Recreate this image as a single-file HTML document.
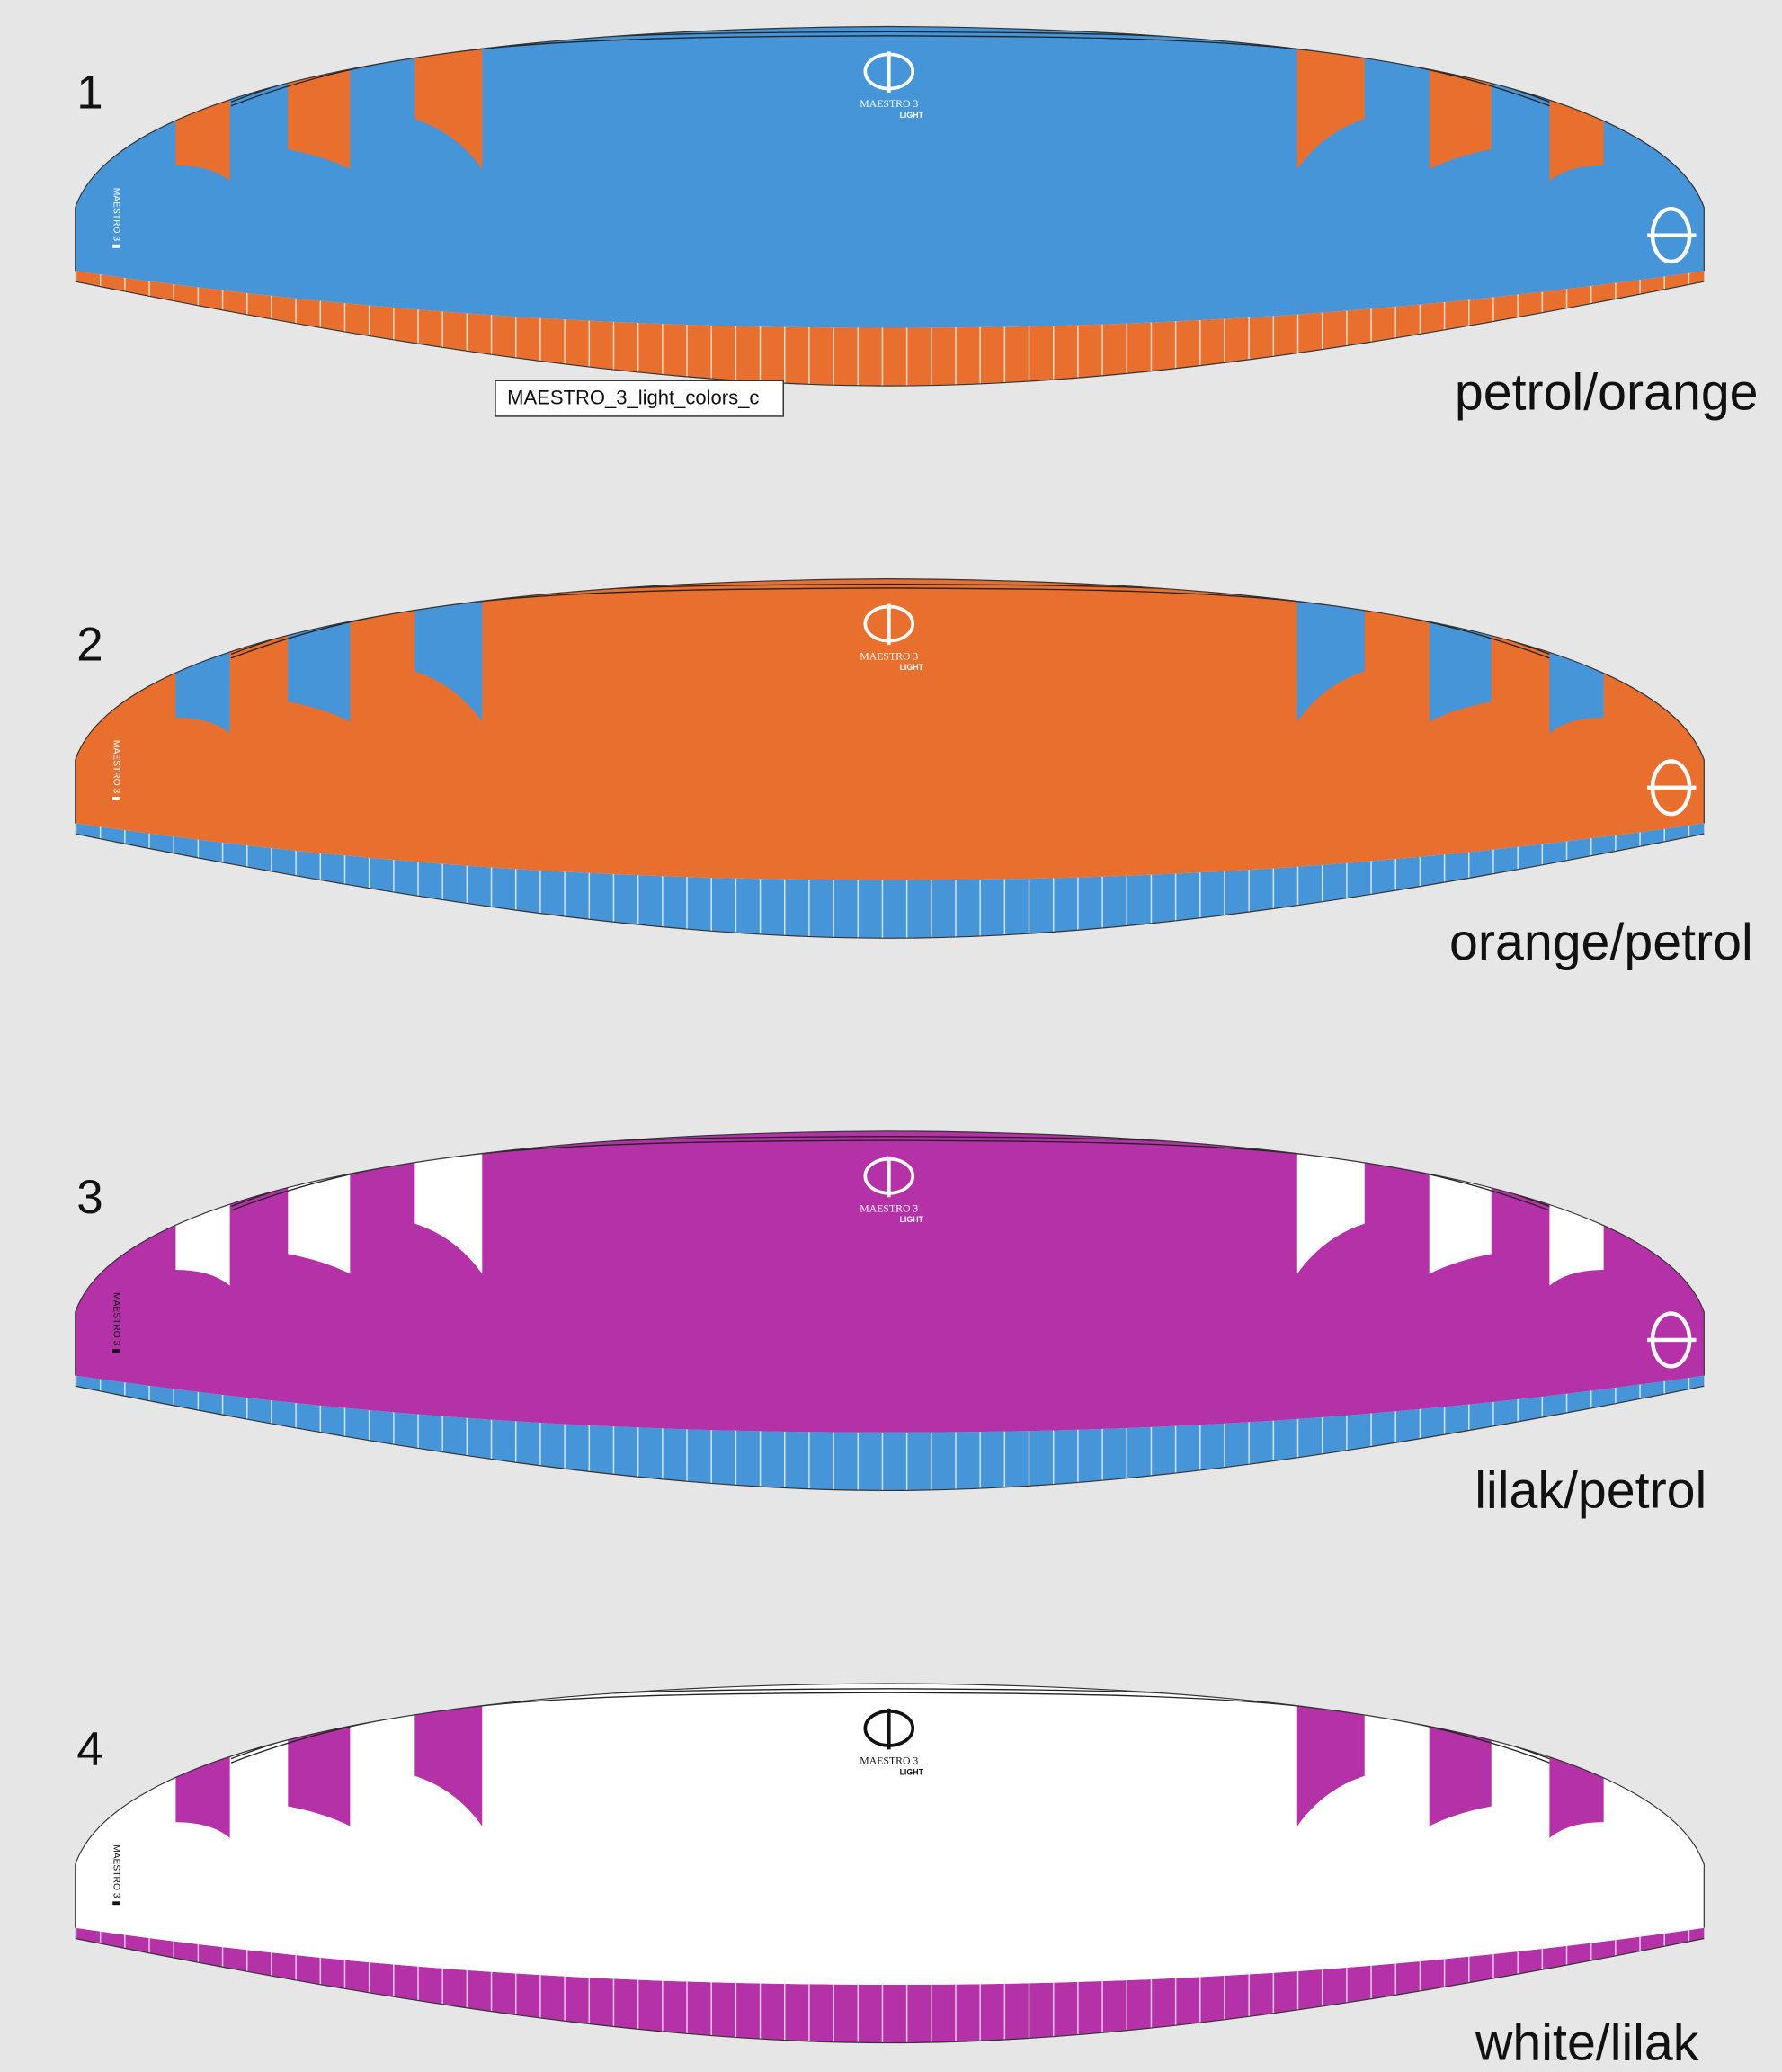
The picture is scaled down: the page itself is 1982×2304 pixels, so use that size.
<!DOCTYPE html>
<html><head><meta charset="utf-8"><style>
html,body{margin:0;padding:0;background:#e6e6e6}
svg{display:block}
</style></head><body>
<svg width="1982" height="2304" viewBox="0 0 1349 1568" xmlns="http://www.w3.org/2000/svg">
<defs>
<clipPath id="cb" clipPathUnits="userSpaceOnUse"><path d="M57,157 C85,75 300,22 673,20 C1046,22 1261,75 1290,157 L1290,205 C1046,240 846,248 673,248 C500,248 300,240 57,205 Z"/></clipPath>
<pattern id="rib" patternUnits="userSpaceOnUse" width="18.5" height="20" x="57"><rect x="0" y="0" width="1" height="20" fill="#ffffff" opacity="0.75"/></pattern>
</defs>
<rect width="1349" height="1568" fill="#e6e6e6"/>

<!-- generic wing builder repeated -->
<g id="w1">
 <path d="M57,205 C300,240 500,248 673,248 C846,248 1046,240 1290,205 L1290,213 C1046,262 846,292 673,292 C500,292 300,262 57,213 Z" fill="#e96f2f"/>
 <path d="M57,205 C300,240 500,248 673,248 C846,248 1046,240 1290,205 L1290,213 C1046,262 846,292 673,292 C500,292 300,262 57,213 Z" fill="url(#rib)"/>
 <path d="M57,213 C300,262 500,292 673,292 C846,292 1046,262 1290,213" fill="none" stroke="#333" stroke-width="0.8"/>
 <path d="M57,157 C85,75 300,22 673,20 C1046,22 1261,75 1290,157 L1290,205 C1046,240 846,248 673,248 C500,248 300,240 57,205 Z" fill="#4795d9"/>
 <g clip-path="url(#cb)" fill="#e96f2f">
  <path d="M133,0 L133,125 Q160,125 174,137 L174,0Z"/><path d="M218,0 L218,113 Q245,118 265,128 L265,0Z"/><path d="M314,0 L314,90 Q345,100 365,128 L365,0Z"/>
  <path d="M1033,0 L1033,90 Q1002,100 982,128 L982,0Z"/><path d="M1129,0 L1129,113 Q1102,118 1082,128 L1082,0Z"/><path d="M1214,0 L1214,125 Q1187,125 1173,137 L1173,0Z"/>
  <path d="M175,77 C300,29 420,25 673,24 C926,25 1046,29 1173,77" fill="none" stroke="#222" stroke-width="0.9"/>
  <path d="M175,80 C300,32 420,28 673,27 C926,28 1046,32 1173,80" fill="none" stroke="#222" stroke-width="0.9"/>
 </g>
 <path d="M57,205 L57,157 C85,75 300,22 673,20 C1046,22 1261,75 1290,157 L1290,205" fill="none" stroke="#333" stroke-width="0.8"/>
 <g fill="none" stroke="#fff" stroke-width="2.5"><ellipse cx="673" cy="54" rx="18" ry="13"/><line x1="673" y1="39" x2="673" y2="70"/></g>
 <text x="673" y="81" font-family="Liberation Serif,serif" font-size="8" fill="#fff" text-anchor="middle">MAESTRO 3</text>
 <text x="690" y="89" font-family="Liberation Sans,sans-serif" font-size="6" font-weight="bold" fill="#fff" text-anchor="middle">LIGHT</text>
 <g fill="none" stroke="#fff" stroke-width="3"><ellipse cx="1265" cy="178" rx="14" ry="20"/><line x1="1247" y1="178" x2="1284" y2="178"/></g>
 <text transform="translate(86,142) rotate(90)" font-family="Liberation Sans,sans-serif" font-size="7" fill="#fff">MAESTRO 3 ▮</text>
</g>
<text x="58" y="82" font-family="Liberation Sans,sans-serif" font-size="36" fill="#111">1</text>
<text x="1331" y="310" font-family="Liberation Sans,sans-serif" font-size="39" fill="#111" text-anchor="end">petrol/orange</text>
<rect x="375" y="288" width="218" height="27" fill="#fff" stroke="#333" stroke-width="1"/>
<text x="384" y="306" font-family="Liberation Sans,sans-serif" font-size="15" fill="#111">MAESTRO_3_light_colors_c</text>

<g transform="translate(0,418)">
 <path d="M57,205 C300,240 500,248 673,248 C846,248 1046,240 1290,205 L1290,213 C1046,262 846,292 673,292 C500,292 300,262 57,213 Z" fill="#4795d9"/>
 <path d="M57,205 C300,240 500,248 673,248 C846,248 1046,240 1290,205 L1290,213 C1046,262 846,292 673,292 C500,292 300,262 57,213 Z" fill="url(#rib)"/>
 <path d="M57,213 C300,262 500,292 673,292 C846,292 1046,262 1290,213" fill="none" stroke="#333" stroke-width="0.8"/>
 <path d="M57,157 C85,75 300,22 673,20 C1046,22 1261,75 1290,157 L1290,205 C1046,240 846,248 673,248 C500,248 300,240 57,205 Z" fill="#e96f2f"/>
 <g clip-path="url(#cb)" fill="#4795d9">
  <path d="M133,0 L133,125 Q160,125 174,137 L174,0Z"/><path d="M218,0 L218,113 Q245,118 265,128 L265,0Z"/><path d="M314,0 L314,90 Q345,100 365,128 L365,0Z"/>
  <path d="M1033,0 L1033,90 Q1002,100 982,128 L982,0Z"/><path d="M1129,0 L1129,113 Q1102,118 1082,128 L1082,0Z"/><path d="M1214,0 L1214,125 Q1187,125 1173,137 L1173,0Z"/>
  <path d="M175,77 C300,29 420,25 673,24 C926,25 1046,29 1173,77" fill="none" stroke="#222" stroke-width="0.9"/>
  <path d="M175,80 C300,32 420,28 673,27 C926,28 1046,32 1173,80" fill="none" stroke="#222" stroke-width="0.9"/>
 </g>
 <path d="M57,205 L57,157 C85,75 300,22 673,20 C1046,22 1261,75 1290,157 L1290,205" fill="none" stroke="#333" stroke-width="0.8"/>
 <g fill="none" stroke="#fff" stroke-width="2.5"><ellipse cx="673" cy="54" rx="18" ry="13"/><line x1="673" y1="39" x2="673" y2="70"/></g>
 <text x="673" y="81" font-family="Liberation Serif,serif" font-size="8" fill="#fff" text-anchor="middle">MAESTRO 3</text>
 <text x="690" y="89" font-family="Liberation Sans,sans-serif" font-size="6" font-weight="bold" fill="#fff" text-anchor="middle">LIGHT</text>
 <g fill="none" stroke="#fff" stroke-width="3"><ellipse cx="1265" cy="178" rx="14" ry="20"/><line x1="1247" y1="178" x2="1284" y2="178"/></g>
 <text transform="translate(86,142) rotate(90)" font-family="Liberation Sans,sans-serif" font-size="7" fill="#fff">MAESTRO 3 ▮</text>
</g>
<text x="58" y="500" font-family="Liberation Sans,sans-serif" font-size="36" fill="#111">2</text>
<text x="1327" y="726" font-family="Liberation Sans,sans-serif" font-size="39" fill="#111" text-anchor="end">orange/petrol</text>

<g transform="translate(0,836)">
 <path d="M57,205 C300,240 500,248 673,248 C846,248 1046,240 1290,205 L1290,213 C1046,262 846,292 673,292 C500,292 300,262 57,213 Z" fill="#4795d9"/>
 <path d="M57,205 C300,240 500,248 673,248 C846,248 1046,240 1290,205 L1290,213 C1046,262 846,292 673,292 C500,292 300,262 57,213 Z" fill="url(#rib)"/>
 <path d="M57,213 C300,262 500,292 673,292 C846,292 1046,262 1290,213" fill="none" stroke="#333" stroke-width="0.8"/>
 <path d="M57,157 C85,75 300,22 673,20 C1046,22 1261,75 1290,157 L1290,205 C1046,240 846,248 673,248 C500,248 300,240 57,205 Z" fill="#b531a8"/>
 <g clip-path="url(#cb)" fill="#ffffff">
  <path d="M133,0 L133,125 Q160,125 174,137 L174,0Z"/><path d="M218,0 L218,113 Q245,118 265,128 L265,0Z"/><path d="M314,0 L314,90 Q345,100 365,128 L365,0Z"/>
  <path d="M1033,0 L1033,90 Q1002,100 982,128 L982,0Z"/><path d="M1129,0 L1129,113 Q1102,118 1082,128 L1082,0Z"/><path d="M1214,0 L1214,125 Q1187,125 1173,137 L1173,0Z"/>
  <path d="M175,77 C300,29 420,25 673,24 C926,25 1046,29 1173,77" fill="none" stroke="#222" stroke-width="0.9"/>
  <path d="M175,80 C300,32 420,28 673,27 C926,28 1046,32 1173,80" fill="none" stroke="#222" stroke-width="0.9"/>
 </g>
 <path d="M57,205 L57,157 C85,75 300,22 673,20 C1046,22 1261,75 1290,157 L1290,205" fill="none" stroke="#333" stroke-width="0.8"/>
 <g fill="none" stroke="#fff" stroke-width="2.5"><ellipse cx="673" cy="54" rx="18" ry="13"/><line x1="673" y1="39" x2="673" y2="70"/></g>
 <text x="673" y="81" font-family="Liberation Serif,serif" font-size="8" fill="#fff" text-anchor="middle">MAESTRO 3</text>
 <text x="690" y="89" font-family="Liberation Sans,sans-serif" font-size="6" font-weight="bold" fill="#fff" text-anchor="middle">LIGHT</text>
 <g fill="none" stroke="#fff" stroke-width="3"><ellipse cx="1265" cy="178" rx="14" ry="20"/><line x1="1247" y1="178" x2="1284" y2="178"/></g>
 <text transform="translate(86,142) rotate(90)" font-family="Liberation Sans,sans-serif" font-size="7" fill="#111">MAESTRO 3 ▮</text>
</g>
<text x="58" y="918" font-family="Liberation Sans,sans-serif" font-size="36" fill="#111">3</text>
<text x="1292" y="1141" font-family="Liberation Sans,sans-serif" font-size="39" fill="#111" text-anchor="end">lilak/petrol</text>

<g transform="translate(0,1254)">
 <path d="M57,205 C300,240 500,248 673,248 C846,248 1046,240 1290,205 L1290,213 C1046,262 846,292 673,292 C500,292 300,262 57,213 Z" fill="#b531a8"/>
 <path d="M57,205 C300,240 500,248 673,248 C846,248 1046,240 1290,205 L1290,213 C1046,262 846,292 673,292 C500,292 300,262 57,213 Z" fill="url(#rib)"/>
 <path d="M57,213 C300,262 500,292 673,292 C846,292 1046,262 1290,213" fill="none" stroke="#333" stroke-width="0.8"/>
 <path d="M57,157 C85,75 300,22 673,20 C1046,22 1261,75 1290,157 L1290,205 C1046,240 846,248 673,248 C500,248 300,240 57,205 Z" fill="#ffffff"/>
 <g clip-path="url(#cb)" fill="#b531a8">
  <path d="M133,0 L133,125 Q160,125 174,137 L174,0Z"/><path d="M218,0 L218,113 Q245,118 265,128 L265,0Z"/><path d="M314,0 L314,90 Q345,100 365,128 L365,0Z"/>
  <path d="M1033,0 L1033,90 Q1002,100 982,128 L982,0Z"/><path d="M1129,0 L1129,113 Q1102,118 1082,128 L1082,0Z"/><path d="M1214,0 L1214,125 Q1187,125 1173,137 L1173,0Z"/>
  <path d="M175,77 C300,29 420,25 673,24 C926,25 1046,29 1173,77" fill="none" stroke="#222" stroke-width="0.9"/>
  <path d="M175,80 C300,32 420,28 673,27 C926,28 1046,32 1173,80" fill="none" stroke="#222" stroke-width="0.9"/>
 </g>
 <path d="M57,205 L57,157 C85,75 300,22 673,20 C1046,22 1261,75 1290,157 L1290,205" fill="none" stroke="#333" stroke-width="0.8"/>
 <g fill="none" stroke="#111" stroke-width="2.5"><ellipse cx="673" cy="54" rx="18" ry="13"/><line x1="673" y1="39" x2="673" y2="70"/></g>
 <text x="673" y="81" font-family="Liberation Serif,serif" font-size="8" fill="#111" text-anchor="middle">MAESTRO 3</text>
 <text x="690" y="89" font-family="Liberation Sans,sans-serif" font-size="6" font-weight="bold" fill="#111" text-anchor="middle">LIGHT</text>
 <text transform="translate(86,142) rotate(90)" font-family="Liberation Sans,sans-serif" font-size="7" fill="#111">MAESTRO 3 ▮</text>
</g>
<text x="58" y="1336" font-family="Liberation Sans,sans-serif" font-size="36" fill="#111">4</text>
<text x="1286" y="1559" font-family="Liberation Sans,sans-serif" font-size="39" fill="#111" text-anchor="end">white/lilak</text>
</svg>
</body></html>
